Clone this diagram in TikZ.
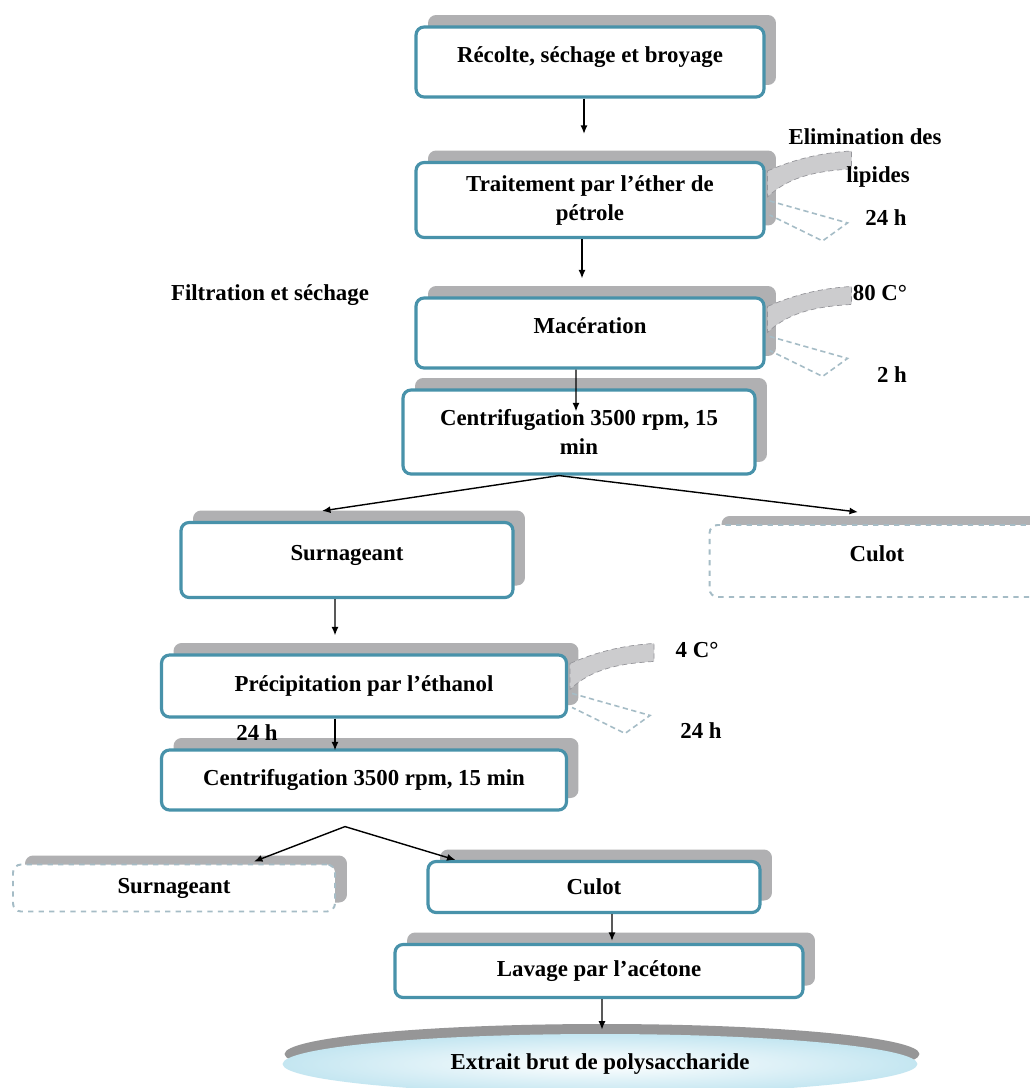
\documentclass[tikz,border=0pt]{standalone}
\usepackage{fontspec}
\setmainfont{Liberation Serif}
\usetikzlibrary{calc,backgrounds,arrows.meta,shapes.geometric,shadows,positioning}
\usepackage{xcolor}
\definecolor{bordure}{RGB}{72,146,170}
\definecolor{ombre}{RGB}{176,176,178}
\definecolor{pointille}{RGB}{165,188,198}
\definecolor{bande}{RGB}{204,204,206}
\definecolor{bandebord}{RGB}{150,150,155}
\definecolor{fondellipse}{RGB}{196,230,241}

\begin{document}
\begin{tikzpicture}[%
    x=0.02cm, y=-0.02cm,%
    show background rectangle,%
    tight background,%
    background rectangle/.style={fill=white}%
  ]
  %
% Styles
%
\tikzset{every node/.style={font=\fontsize{13}{16.5}\selectfont\bfseries, align=center}};%
\tikzset{fleche/.style={-{Latex[length=1.7mm,width=1.4mm]}, line width=0.8pt}};%
\tikzset{etape/.style={draw=bordure, line width=1.8pt, fill=white, rounded corners=0.16cm,
    general shadow={fill=ombre, shadow xshift=0.24cm, shadow yshift=0.24cm}}};%
\tikzset{etape pointillee/.style={draw=pointille, dashed, line width=1.1pt, fill=white, rounded corners=0.16cm,
    general shadow={fill=ombre, shadow xshift=0.24cm, shadow yshift=0.18cm}}};%
\tikzset{texte haut/.style={text height=0.35cm, text depth=0.33cm}};%
\tikzset{produit/.style={ellipse, inner sep=0pt, inner color=white, outer color=fondellipse,
    general shadow={fill=ombre!85!black, shadow xshift=0.04cm, shadow yshift=0.2cm}}};%
\tikzset{bandes/.pic={%
    \draw[bandebord, dash pattern=on 3pt off 2pt, fill=bande] (2,10) .. controls (30,-2) and (55,-8) .. (86,-10)
      -- (86,8) .. controls (55,10) and (25,14) .. (2,36) -- cycle;%
    \draw[pointille, dash pattern=on 3pt off 2pt, line width=0.9pt] (4,40) -- (82,62) -- (57,80) -- (4,54);%
  }};%

%
% Frame of the picture
%
\useasboundingbox (0,0) rectangle (1030,1088);%

%
% Steps
%
\node[etape, texte haut, minimum width=6.96cm, minimum height=1.4cm] (recolte) at (590,62) {Récolte, séchage et broyage};%
\node[etape, minimum width=6.96cm, minimum height=1.5cm] (traitement) at (590,200) {Traitement par l'éther de\\pétrole};%
\node[etape, texte haut, minimum width=6.96cm, minimum height=1.4cm] (maceration) at (590,333) {Macération};%
\node[etape, minimum width=7.04cm, minimum height=1.68cm] (centrifuge) at (579,432) {Centrifugation 3500 rpm, 15\\min};%
\node[etape, texte haut, minimum width=6.64cm, minimum height=1.5cm] (surnageant) at (347,560) {Surnageant};%
\node[etape pointillee, texte haut, minimum width=6.7cm, minimum height=1.44cm] (culot) at (877,561) {Culot};%
\node[etape, minimum width=8.1cm, minimum height=1.24cm] (precipitation) at (364,686) {Précipitation par l'éthanol};%
\node[etape, minimum width=8.1cm, minimum height=1.2cm] (centrifugeb) at (364,780) {Centrifugation 3500 rpm, 15 min};%
\node[etape pointillee, minimum width=6.44cm, minimum height=0.94cm] (surnageantb) at (174,888) {Surnageant};%
\node[etape, minimum width=6.64cm, minimum height=1.02cm] (culotb) at (594,887) {Culot};%
\node[etape, minimum width=8.16cm, minimum height=1.06cm] (lavage) at (599,971) {Lavage par l'acétone};%
\node[produit, minimum width=12.7cm, minimum height=1.2cm] (extrait) at (600,1064) {Extrait brut de polysaccharide};%

%
% Side conditions
%
\pic at (traitement.north east) {bandes};%
\pic at (maceration.north east) {bandes};%
\pic at (precipitation.north east) {bandes};%

\node (elimination) at (865,137) {Elimination des};%
\node (lipides) at (878,177) {lipides};%
\node (dureeA) at (886,218) {24 h};%
\node (tempB) at (880,293) {80 C°};%
\node (dureeB) at (892,375) {2 h};%
\node (filtration) at (270,295) {Filtration et séchage};%
\node (tempC) at (697,650) {4 C°};%
\node (dureeC) at (701,731) {24 h};%
\node (dureeD) at (257,733) {24 h};%

%
% Arrows
%
\draw[fleche, shorten >=0.54cm] ([xshift=-0.12cm]recolte.south) -- ([xshift=-0.12cm]traitement.north);%
\draw[fleche, shorten >=0.36cm] ([xshift=-0.16cm]traitement.south) -- ([xshift=-0.16cm]maceration.north);%
\draw[fleche] ([xshift=-0.28cm]maceration.south) -- ([xshift=-0.06cm,yshift=-0.46cm]centrifuge.north);%

\draw[fleche] ([xshift=-0.4cm]centrifuge.south) -- ([xshift=-0.5cm,yshift=0.2cm]surnageant.north);%
\draw[fleche] ([xshift=-0.4cm]centrifuge.south) -- ([xshift=-0.38cm,yshift=0.24cm]culot.north);%

\draw[fleche] ([xshift=-0.24cm]surnageant.south) -- ([xshift=-0.58cm,yshift=0.36cm]precipitation.north);%
\draw[fleche] ([xshift=-0.58cm]precipitation.south) -- ([xshift=-0.58cm,yshift=-0.04cm]centrifugeb.north);%

\draw[fleche] ([xshift=-0.38cm,yshift=-0.3cm]centrifugeb.south) -- ([xshift=-1.64cm,yshift=0.04cm]surnageantb.north east);%
\draw[fleche] ([xshift=-0.38cm,yshift=-0.3cm]centrifugeb.south) -- ([xshift=0.58cm]culotb.north west);%

\draw[fleche] ([xshift=0.36cm]culotb.south) -- ([xshift=0.26cm,yshift=0.04cm]lavage.north);%
\draw[fleche] ([xshift=0.06cm]lavage.south) -- ([xshift=0.04cm,yshift=0.08cm]extrait.north);%
\end{tikzpicture}
\end{document}
